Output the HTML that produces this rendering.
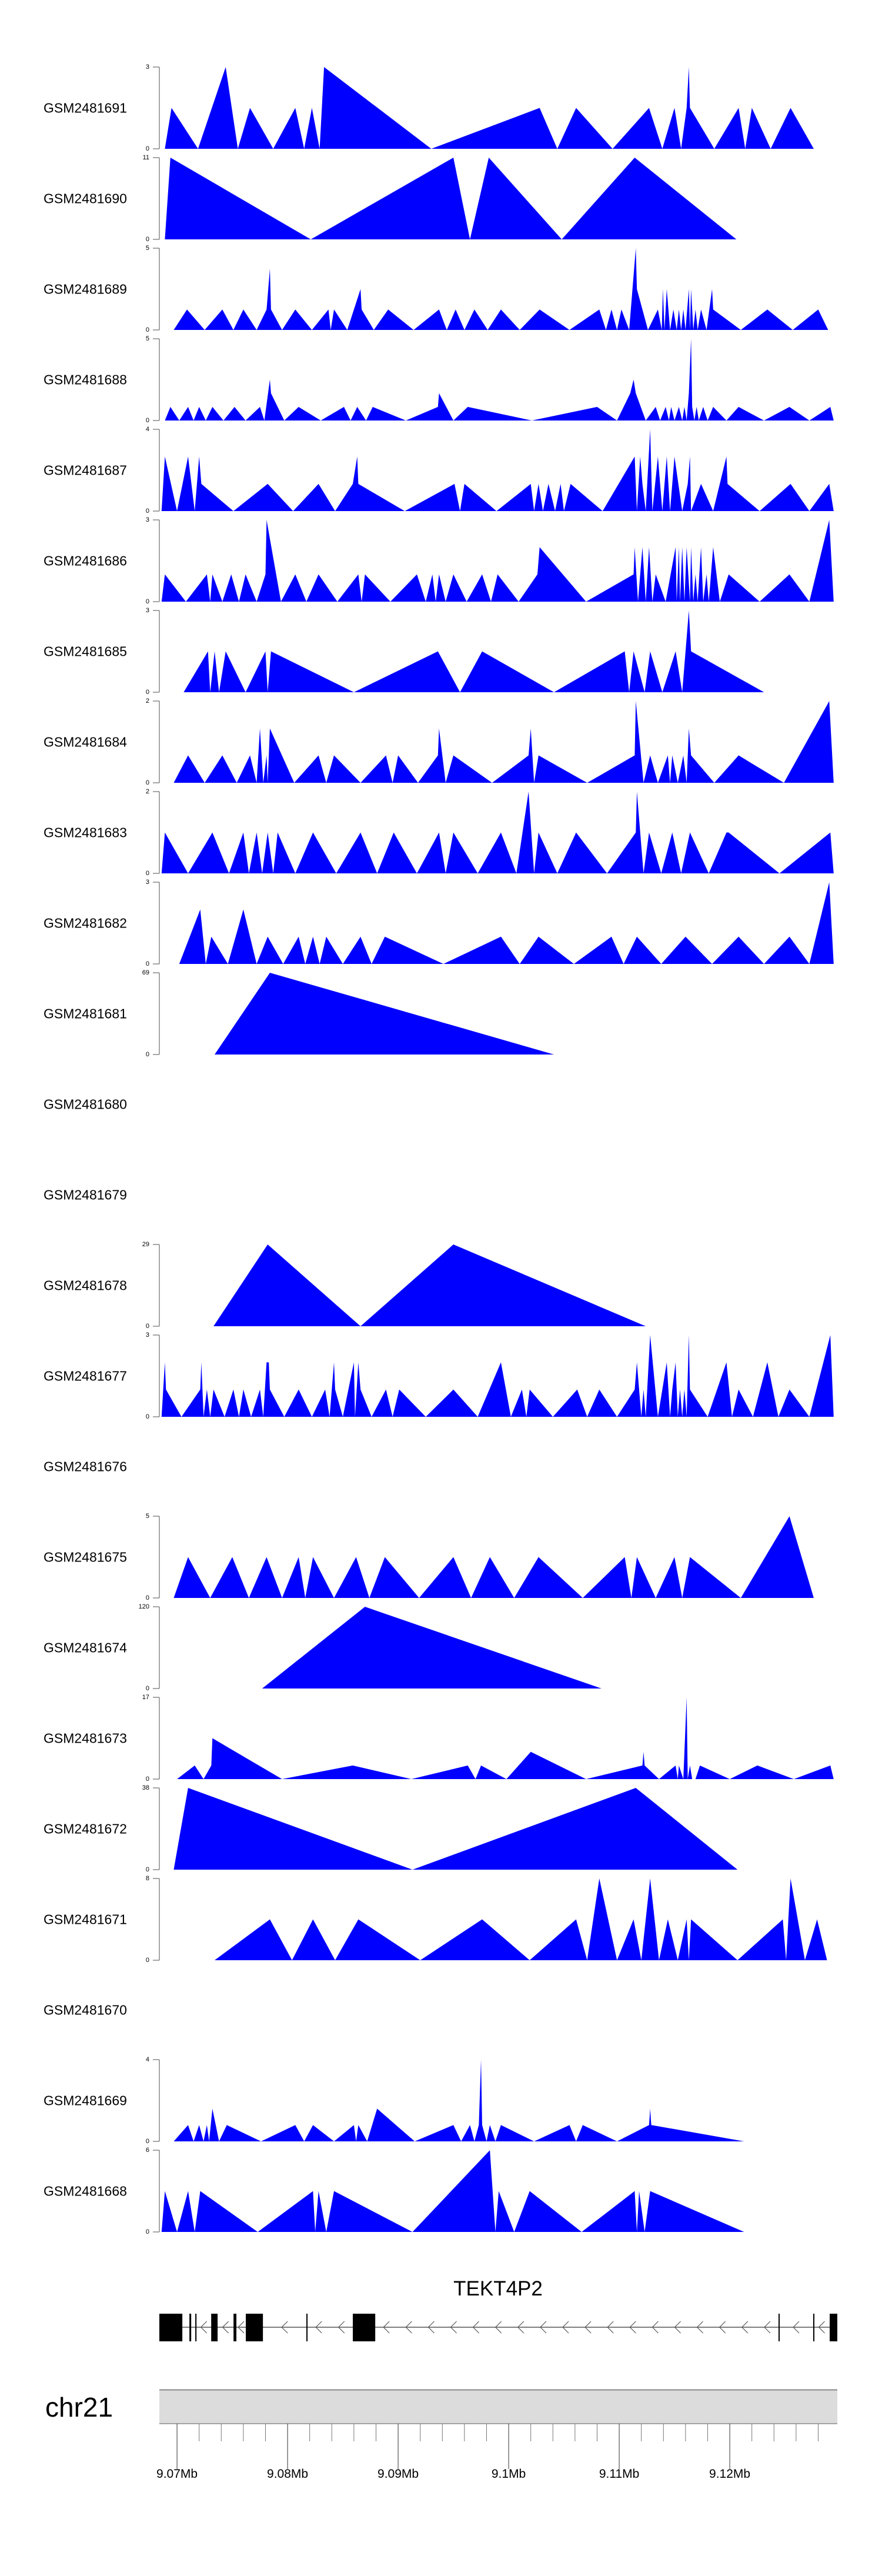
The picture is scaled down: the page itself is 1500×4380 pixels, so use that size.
<!DOCTYPE html>
<html>
<head>
<meta charset="utf-8">
<style>
  html,body{margin:0;padding:0;background:#fff;}
  body{width:1500px;height:4380px;overflow:hidden;}
  svg{display:block;font-family:"Liberation Sans",Arial,sans-serif;}
</style>
</head>
<body>
<svg id="chart" width="1500" height="4380" viewBox="0 0 1500 4380" xmlns="http://www.w3.org/2000/svg"></svg>
<script>
// ---------------- data ----------------
const trackNames = ["GSM2481691","GSM2481690","GSM2481689","GSM2481688","GSM2481687","GSM2481686","GSM2481685","GSM2481684","GSM2481683","GSM2481682","GSM2481681","GSM2481680","GSM2481679","GSM2481678","GSM2481677","GSM2481676","GSM2481675","GSM2481674","GSM2481673","GSM2481672","GSM2481671","GSM2481670","GSM2481669","GSM2481668"];
const trackMax = [3,11,5,5,4,3,3,2,2,3,69,null,null,29,3,null,5,120,17,38,8,null,4,6];

const cov1691 = [[9068.9,0],[9069.5,1.5],[9071.9,0],[9074.4,3],[9075.5,0],[9076.6,1.5],[9078.7,0],[9080.7,1.5],[9081.5,0],[9082.2,1.5],[9082.9,0],[9083.3,3],[9093.0,0],[9102.8,1.5],[9104.4,0],[9106.1,1.5],[9109.4,0],[9112.7,1.5],[9113.9,0],[9115.0,1.5],[9115.6,0],[9116.1,1.5],[9116.3,3],[9116.4,1.5],[9118.6,0],[9120.8,1.5],[9121.4,0],[9122.0,1.5],[9123.7,0],[9125.5,1.5],[9127.6,0]];
const cov1690 = [[9068.9,0],[9069.4,11],[9082.1,0],[9095.0,11],[9096.5,0],[9098.2,11],[9104.8,0],[9111.4,11],[9120.6,0]];
const cov1689 = [[9069.7,0],[9070.9,1.25],[9072.5,0],[9074.1,1.25],[9075.1,0],[9076.0,1.25],[9077.2,0],[9078.1,1.25],[9078.4,3.75],[9078.5,1.25],[9079.5,0],[9080.7,1.25],[9082.2,0],[9083.7,1.25],[9083.9,0],[9084.2,1.25],[9085.4,0],[9086.6,2.5],[9086.7,1.25],[9087.8,0],[9089.1,1.25],[9091.4,0],[9093.7,1.25],[9094.4,0],[9095.2,1.25],[9096.0,0],[9096.9,1.25],[9098.1,0],[9099.3,1.25],[9101.0,0],[9102.8,1.25],[9105.5,0],[9108.2,1.25],[9108.8,0],[9109.3,1.25],[9109.8,0],[9110.2,1.25],[9110.9,0],[9111.5,5],[9111.6,2.5],[9112.6,0],[9113.5,1.25],[9113.85,0],[9113.95,2.5],[9114.1,0],[9114.3,2.5],[9114.6,0],[9114.9,1.25],[9115.2,0],[9115.4,1.25],[9115.6,0],[9115.8,1.25],[9116.0,0],[9116.3,2.5],[9116.4,0],[9116.5,2.5],[9116.7,0],[9116.9,1.25],[9117.1,0],[9117.4,1.25],[9117.9,0],[9118.4,2.5],[9118.5,1.25],[9121.0,0],[9123.4,1.25],[9125.7,0],[9128.0,1.25],[9128.9,0]];
const cov1688 = [[9068.9,0],[9069.4,0.83],[9070.2,0],[9071.0,0.83],[9071.5,0],[9072.0,0.83],[9072.6,0],[9073.2,0.83],[9074.2,0],[9075.2,0.83],[9076.2,0],[9077.5,0.83],[9077.9,0],[9078.4,2.5],[9078.5,1.67],[9079.7,0],[9081.0,0.83],[9083.0,0],[9085.1,0.83],[9085.7,0],[9086.3,0.83],[9087.1,0],[9087.7,0.83],[9090.7,0],[9093.6,0.83],[9093.7,1.67],[9095.0,0],[9096.3,0.83],[9102.1,0],[9108.0,0.83],[9109.8,0],[9111.0,1.67],[9111.3,2.5],[9111.5,1.67],[9112.4,0],[9113.3,0.83],[9113.7,0],[9114.2,0.83],[9114.5,0],[9114.7,0.83],[9115.0,0],[9115.4,0.83],[9115.7,0],[9115.9,0.83],[9116.1,0],[9116.3,1.67],[9116.5,5],[9116.6,0.83],[9116.8,0],[9117.0,0.83],[9117.2,0],[9117.6,0.83],[9118.0,0],[9118.5,0.83],[9119.7,0],[9120.8,0.83],[9123.1,0],[9125.4,0.83],[9127.2,0],[9129.1,0.83],[9129.4,0]];
const cov1687 = [[9068.6,0],[9068.9,2.67],[9070.0,0],[9071.0,2.67],[9071.6,0],[9072.0,2.67],[9072.2,1.33],[9075.1,0],[9078.2,1.33],[9080.5,0],[9082.8,1.33],[9084.3,0],[9085.9,1.33],[9086.3,2.67],[9086.4,1.33],[9090.6,0],[9095.1,1.33],[9095.6,0],[9096.0,1.33],[9098.9,0],[9102.0,1.33],[9102.3,0],[9102.7,1.33],[9103.1,0],[9103.6,1.33],[9104.2,0],[9104.7,1.33],[9105.0,0],[9105.6,1.33],[9108.5,0],[9111.4,2.67],[9111.6,0],[9111.9,2.67],[9112.1,1.33],[9112.4,0],[9112.8,4],[9113.0,0],[9113.5,2.67],[9113.9,0],[9114.3,2.67],[9114.6,0],[9115.0,2.67],[9115.7,0],[9116.2,1.33],[9116.4,2.67],[9116.5,0],[9117.4,1.33],[9118.5,0],[9119.7,2.67],[9119.8,1.33],[9122.7,0],[9125.5,1.33],[9127.2,0],[9129.0,1.33],[9129.4,0]];
const cov1686 = [[9068.6,0],[9068.9,1],[9070.8,0],[9072.7,1],[9073.0,0],[9073.2,1],[9074.1,0],[9074.9,1],[9075.6,0],[9076.2,1],[9077.2,0],[9078.0,1],[9078.1,3],[9079.4,0],[9080.7,1],[9081.7,0],[9082.8,1],[9084.5,0],[9086.4,1],[9086.7,0],[9087.0,1],[9089.3,0],[9091.7,1],[9092.5,0],[9093.1,1],[9093.4,0],[9093.7,1],[9094.3,0],[9095.0,1],[9096.2,0],[9097.6,1],[9098.4,0],[9099.0,1],[9100.9,0],[9102.6,1],[9102.8,2],[9107.0,0],[9111.3,1],[9111.4,2],[9111.7,0],[9112.1,2],[9112.4,0],[9112.7,2],[9113.0,0],[9113.3,1],[9114.2,0],[9115.1,2],[9115.2,0],[9115.4,2],[9115.5,0],[9115.7,2],[9115.9,0],[9116.1,2],[9116.4,0],[9116.5,2],[9116.7,0],[9116.9,1],[9117.1,0],[9117.4,2],[9117.6,0],[9117.9,1],[9118.1,0],[9118.5,2],[9119.1,0],[9119.9,1],[9122.7,0],[9125.4,1],[9127.2,0],[9129.0,3],[9129.4,0]];
const cov1685 = [[9070.6,0],[9072.8,1.5],[9073.0,0],[9073.4,1.5],[9073.8,0],[9074.4,1.5],[9076.2,0],[9078.0,1.5],[9078.2,0],[9078.5,1.5],[9086.0,0],[9093.6,1.5],[9095.6,0],[9097.6,1.5],[9104.1,0],[9110.5,1.5],[9110.9,0],[9111.3,1.5],[9112.3,0],[9112.8,1.5],[9113.9,0],[9115.1,1.5],[9115.7,0],[9116.3,3],[9116.5,1.5],[9123.1,0]];
const cov1684 = [[9069.7,0],[9071.0,0.67],[9072.5,0],[9074.1,0.67],[9075.4,0],[9076.6,0.67],[9077.2,0],[9077.5,1.33],[9077.8,0],[9078.1,0.67],[9078.2,0],[9078.4,1.33],[9080.6,0],[9082.8,0.67],[9083.5,0],[9084.2,0.67],[9086.6,0],[9088.9,0.67],[9089.5,0],[9090.0,0.67],[9091.8,0],[9093.6,0.67],[9093.7,1.33],[9094.3,0],[9095.0,0.67],[9098.5,0],[9101.8,0.67],[9102.0,1.33],[9102.3,0],[9102.7,0.67],[9107.1,0],[9111.4,0.67],[9111.5,2],[9112.2,0],[9112.8,0.67],[9113.5,0],[9114.4,0.67],[9114.6,0],[9114.8,0.67],[9115.3,0],[9115.8,0.67],[9116.1,0],[9116.3,1.33],[9116.5,0.67],[9118.6,0],[9120.8,0.67],[9124.9,0],[9129.0,2],[9129.4,0]];
const cov1683 = [[9068.6,0],[9068.9,1],[9071.0,0],[9073.2,1],[9074.7,0],[9076.0,1],[9076.5,0],[9077.2,1],[9077.7,0],[9078.2,1],[9078.7,0],[9079.1,1],[9080.7,0],[9082.3,1],[9084.4,0],[9086.6,1],[9088.1,0],[9089.6,1],[9091.7,0],[9093.7,1],[9094.3,0],[9095.0,1],[9097.2,0],[9099.3,1],[9100.7,0],[9101.8,2],[9102.3,0],[9102.7,1],[9104.4,0],[9106.1,1],[9108.9,0],[9111.5,1],[9111.6,2],[9112.2,0],[9112.7,1],[9113.8,0],[9114.8,1],[9115.6,0],[9116.4,1],[9118.1,0],[9119.7,1],[9119.9,1],[9124.5,0],[9129.1,1],[9129.4,0]];
const cov1682 = [[9070.2,0],[9072.1,2],[9072.6,0],[9073.1,1],[9074.6,0],[9076.0,2],[9077.2,0],[9078.2,1],[9079.6,0],[9081.0,1],[9081.6,0],[9082.3,1],[9082.9,0],[9083.5,1],[9085.0,0],[9086.6,1],[9087.6,0],[9088.8,1],[9094.1,0],[9099.3,1],[9101.0,0],[9102.7,1],[9105.9,0],[9109.3,1],[9110.4,0],[9111.6,1],[9113.8,0],[9116.0,1],[9118.4,0],[9120.8,1],[9123.1,0],[9125.4,1],[9127.2,0],[9129.0,3],[9129.4,0]];
const cov1681 = [[9073.4,0],[9078.4,69],[9104.1,0]];
const cov1678 = [[9073.3,0],[9078.2,29],[9086.6,0],[9095.0,29],[9112.4,0]];
const cov1677 = [[9068.6,0],[9068.9,2],[9069.0,1],[9070.4,0],[9072.1,1],[9072.2,2],[9072.4,0],[9072.7,1],[9073.0,0],[9073.3,1],[9074.3,0],[9075.1,1],[9075.6,0],[9076.0,1],[9076.7,0],[9077.5,1],[9077.8,0],[9078.1,2],[9078.3,2],[9078.4,1],[9079.7,0],[9081.0,1],[9082.2,0],[9083.4,1],[9083.8,0],[9084.2,2],[9084.3,1],[9085.0,0],[9086.0,2],[9086.1,0],[9086.4,2],[9086.6,1],[9087.6,0],[9088.9,1],[9089.5,0],[9090.1,1],[9092.5,0],[9095.0,1],[9097.2,0],[9099.3,2],[9100.2,0],[9101.2,1],[9101.6,0],[9101.9,1],[9104.0,0],[9106.2,1],[9107.1,0],[9108.2,1],[9109.8,0],[9111.4,1],[9111.6,2],[9112.0,0],[9112.2,1],[9112.4,0],[9112.8,3],[9113.5,0],[9114.3,2],[9114.6,0],[9114.8,1],[9115.1,2],[9115.3,0],[9115.5,1],[9115.7,0],[9115.9,1],[9116.1,0],[9116.3,3],[9116.4,1],[9118.0,0],[9119.7,2],[9120.2,0],[9120.8,1],[9122.1,0],[9123.4,2],[9124.4,0],[9125.4,1],[9127.2,0],[9129.1,3],[9129.4,0]];
const cov1675 = [[9069.7,0],[9071.0,2.5],[9073.0,0],[9075.0,2.5],[9076.5,0],[9078.1,2.5],[9079.5,0],[9081.0,2.5],[9081.6,0],[9082.3,2.5],[9084.2,0],[9086.2,2.5],[9087.4,0],[9088.8,2.5],[9091.9,0],[9095.0,2.5],[9096.6,0],[9098.3,2.5],[9100.5,0],[9102.7,2.5],[9106.7,0],[9110.5,2.5],[9111.1,0],[9111.6,2.5],[9113.3,0],[9115.0,2.5],[9115.7,0],[9116.4,2.5],[9121.0,0],[9125.4,5],[9127.6,0]];
const cov1674 = [[9077.7,0],[9087.0,120],[9108.4,0]];
const cov1673 = [[9070.0,0],[9071.6,2.83],[9072.4,0],[9073.1,2.83],[9073.2,8.5],[9079.5,0],[9085.9,2.83],[9091.2,0],[9096.3,2.83],[9097.0,0],[9097.5,2.83],[9099.8,0],[9102.0,5.67],[9107.0,0],[9112.1,2.83],[9112.2,5.67],[9112.3,2.83],[9113.6,0],[9115.1,2.83],[9115.3,0],[9115.4,2.83],[9115.8,0],[9116.1,17],[9116.2,0],[9116.4,2.83],[9116.6,0],[9116.9,0],[9117.3,2.83],[9120.0,0],[9122.5,2.83],[9125.8,0],[9129.1,2.83],[9129.4,0]];
const cov1672 = [[9069.7,0],[9071.0,38],[9091.3,0],[9111.5,38],[9120.7,0]];
const cov1671 = [[9073.4,0],[9078.4,4],[9080.4,0],[9082.3,4],[9084.3,0],[9086.4,4],[9092.0,0],[9097.6,4],[9101.9,0],[9106.1,4],[9107.1,0],[9108.2,8],[9109.8,0],[9111.3,4],[9112.0,0],[9112.8,8],[9113.6,0],[9114.4,4],[9115.3,0],[9116.1,4],[9116.3,0],[9116.5,4],[9120.7,0],[9124.8,4],[9125.1,0],[9125.5,8],[9126.8,0],[9127.9,4],[9128.8,0]];
const cov1669 = [[9069.7,0],[9071.0,0.8],[9071.5,0],[9072.0,0.8],[9072.4,0],[9072.7,0.8],[9072.9,0],[9073.2,1.6],[9073.8,0],[9074.5,0.8],[9077.6,0],[9080.7,0.8],[9081.5,0],[9082.3,0.8],[9084.2,0],[9086.0,0.8],[9086.2,0],[9086.4,0.8],[9087.2,0],[9088.1,1.6],[9091.5,0],[9095.0,0.8],[9095.7,0],[9096.5,0.8],[9096.9,0],[9097.3,0.8],[9097.5,4],[9097.6,0.8],[9098.0,0],[9098.3,0.8],[9098.8,0],[9099.3,0.8],[9102.3,0],[9105.5,0.8],[9106.1,0],[9106.7,0.8],[9109.8,0],[9112.7,0.8],[9112.8,1.6],[9112.9,0.8],[9121.3,0]];
const cov1668 = [[9068.6,0],[9068.9,3],[9070.0,0],[9071.0,3],[9071.6,0],[9072.1,3],[9077.3,0],[9082.3,3],[9082.5,0],[9082.8,3],[9083.5,0],[9084.2,3],[9091.3,0],[9098.3,6],[9098.8,0],[9099.1,3],[9100.5,0],[9101.9,3],[9106.6,0],[9111.4,3],[9111.6,0],[9111.8,3],[9112.3,0],[9112.8,3],[9121.3,0]];

const trackData = [cov1691,cov1690,cov1689,cov1688,cov1687,cov1686,cov1685,cov1684,cov1683,cov1682,cov1681,null,null,cov1678,cov1677,null,cov1675,cov1674,cov1673,cov1672,cov1671,null,cov1669,cov1668];

// gene model (kb)
const exonStart = [9068.40,9071.12,9071.65,9073.09,9075.11,9076.22,9081.70,9085.90,9124.41,9127.55,9129.04];
const exonEnd   = [9070.48,9071.28,9071.76,9073.67,9075.37,9077.77,9081.80,9087.93,9124.47,9127.60,9129.73];
const geneName = "TEKT4P2";
const chromName = "chr21";
const axisTickStep = 2;      // kb
const axisLabelKb = [9070,9080,9090,9100,9110,9120];
const axisLabels = ["9.07Mb","9.08Mb","9.09Mb","9.1Mb","9.11Mb","9.12Mb"];

// ---------------- scales ----------------
const X0 = 271, X1 = 1424, KB0 = 9068.40, KB1 = 9129.73;
function xs(kb){ return X0 + (kb-KB0)/(KB1-KB0)*(X1-X0); }
const TRACK_TOP = 114, TRACK_PITCH = 154, TRACK_H = 139;
function trackBase(i){ return TRACK_TOP + TRACK_PITCH*i + TRACK_H; }
function ys(i, v, max){ return trackBase(i) - v/max*TRACK_H; }

const NS = "http://www.w3.org/2000/svg";
const svg = document.getElementById('chart');
function mk(tag, attrs, parent){
  const e = document.createElementNS(NS, tag);
  for (const k in attrs) e.setAttribute(k, attrs[k]);
  (parent||svg).appendChild(e);
  return e;
}

// ---------------- tracks ----------------
trackNames.forEach((name, i) => {
  const g = mk('g', {});
  
  
  const mid = TRACK_TOP + TRACK_PITCH*i + TRACK_H/2;
  const lab = mk('text', {x:74, y:mid, 'font-size':23, 'dominant-baseline':'central', fill:'#000'}, g);
  lab.textContent = name;
  
  
  const data = trackData[i];
  const max = trackMax[i];
  if (!data || max == null) return;
  const top = trackBase(i) - TRACK_H, base = trackBase(i);
  const ax = mk('g', {}, g);
  
  
  mk('line', {x1:271, y1:top, x2:271, y2:base, stroke:'#777', 'stroke-width':1.3}, ax);
  [[max, top],[0, base]].forEach(([v, y]) => {
    mk('line', {x1:260, y1:y, x2:271, y2:y, stroke:'#777', 'stroke-width':1.3}, ax);
    const t = mk('text', {x:254, y:y, 'font-size':11, 'text-anchor':'end', 'dominant-baseline':'central', fill:'#000'}, ax);
    t.textContent = String(v);
    
    
  });
  let d = 'M' + xs(data[0][0]).toFixed(2) + ' ' + base;
  data.forEach(p => { d += ' L' + xs(p[0]).toFixed(2) + ' ' + ys(i, p[1], max).toFixed(2); });
  d += ' L' + xs(data[data.length-1][0]).toFixed(2) + ' ' + base + ' Z';
  const area = mk('path', {d:d, fill:'#0000ff', stroke:'none'}, g);
  
  
});

// ---------------- gene model ----------------
const geneG = mk('g', {});


const gTitle = mk('text', {x:847, y:3903, 'font-size':35, 'text-anchor':'middle', fill:'#000'}, geneG);
gTitle.textContent = geneName;


const GY = 3957, GT = 3934, GB = 3981;
mk('line', {x1:xs(exonStart[0]), y1:GY, x2:xs(exonEnd[exonEnd.length-1]), y2:GY, stroke:'#555', 'stroke-width':1.5}, geneG);
// strand chevrons in introns
for (let k = 0; k < exonStart.length-1; k++){
  const a = xs(exonEnd[k]), b = xs(exonStart[k+1]);
  const gap = b - a;
  if (gap < 14) continue;
  const n = Math.max(1, Math.floor(gap/38));
  const step = gap/n;
  for (let j = 0; j < n; j++){
    const cx = a + step*(j+0.5) - 5;
    const ch = mk('polyline', {points:(cx+10)+','+(GY-10)+' '+cx+','+GY+' '+(cx+10)+','+(GY+10), fill:'none', stroke:'#555', 'stroke-width':1.2}, geneG);
    
    
  }
}
exonStart.forEach((s, k) => {
  const x = xs(s), w = Math.max(2, xs(exonEnd[k]) - x);
  const r = mk('rect', {x:x, y:GT, width:w, height:GB-GT, fill:'#000'}, geneG);
  
  
});

// ---------------- chromosome axis ----------------
const chrG = mk('g', {});


const chrLab = mk('text', {x:77, y:4109, 'font-size':46, fill:'#000'}, chrG);
chrLab.textContent = chromName;


const box = mk('rect', {x:X0, y:4063, width:X1-X0, height:58, fill:'#dcdcdc'}, chrG);


mk('line', {x1:X0, y1:4063.5, x2:X1, y2:4063.5, stroke:'#888', 'stroke-width':2}, chrG);
mk('line', {x1:X0, y1:4121, x2:X1, y2:4121, stroke:'#777', 'stroke-width':1.2}, chrG);
for (let kb = Math.ceil(KB0/axisTickStep)*axisTickStep; kb <= KB1; kb += axisTickStep){
  const major = axisLabelKb.indexOf(kb) >= 0;
  const x = xs(kb);
  mk('line', {x1:x, y1:4121, x2:x, y2: major ? 4198 : 4151, stroke: major ? '#333' : '#777', 'stroke-width':1}, chrG);
}
axisLabelKb.forEach((kb, k) => {
  const t = mk('text', {x:xs(kb), y:4213, 'font-size':21, 'text-anchor':'middle', fill:'#000'}, chrG);
  t.textContent = axisLabels[k];
  
  
});
</script>
</body>
</html>
